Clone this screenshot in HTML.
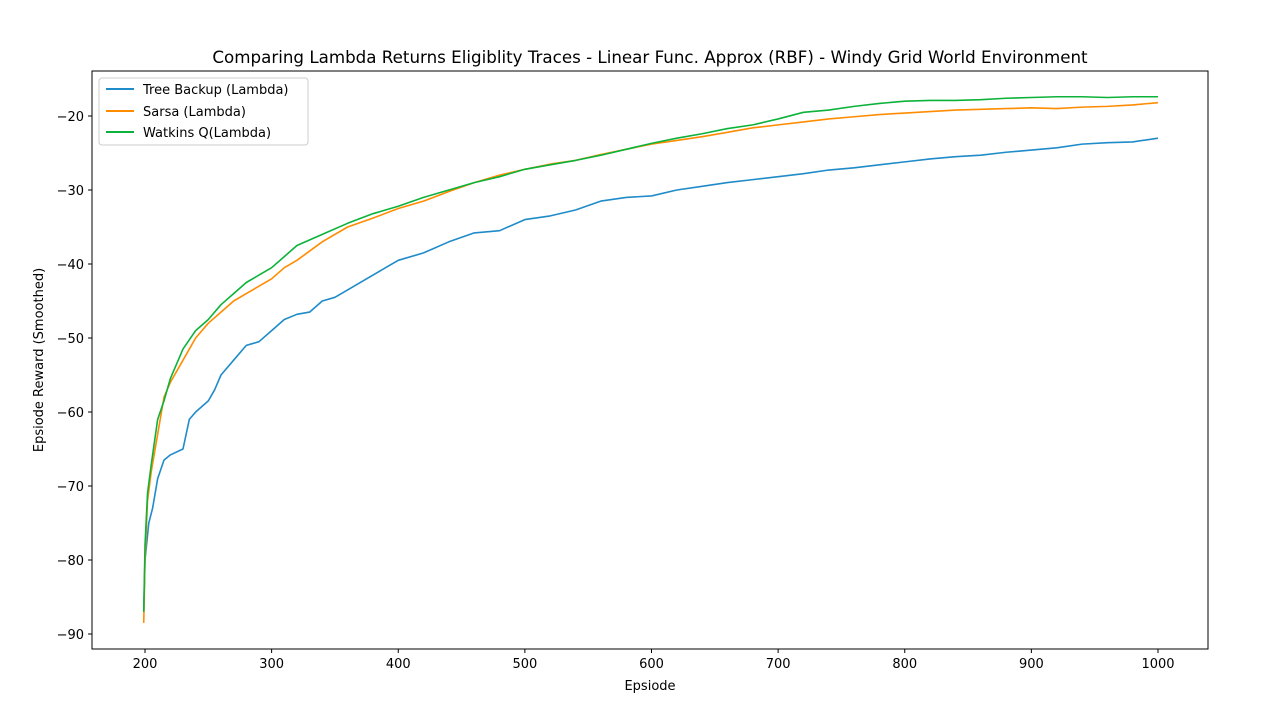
<!DOCTYPE html>
<html><head><meta charset="utf-8"><style>
body{margin:0;background:#fff;font-family:"DejaVu Sans","Liberation Sans",sans-serif;}
svg text{font-family:"DejaVu Sans","Liberation Sans",sans-serif;}
</style></head><body>
<svg id="chart" width="1281" height="711" xmlns="http://www.w3.org/2000/svg">
<rect width="1281" height="711" fill="#fff"/>
<text x="650" y="63" font-size="16.7" text-anchor="middle">Comparing Lambda Returns Eligiblity Traces - Linear Func. Approx (RBF) - Windy Grid World Environment</text>
<g id="plot"></g>
<rect x="92" y="71" width="1116" height="578" fill="none" stroke="#000" stroke-width="1"/>
<text x="650" y="690" font-size="13" text-anchor="middle">Epsiode</text>
<text transform="translate(43,360) rotate(-90)" font-size="13" text-anchor="middle">Epsiode Reward (Smoothed)</text>
<g>
<rect x="99" y="78" width="209" height="67" fill="#fff" stroke="#ccc" rx="3"/>
<line x1="106" y1="89" x2="134" y2="89" stroke="#1f8bc9" stroke-width="2"/>
<text x="143" y="94" font-size="13">Tree Backup (Lambda)</text>
<line x1="106" y1="111" x2="134" y2="111" stroke="#ff8c00" stroke-width="2"/>
<text x="143" y="116" font-size="13">Sarsa (Lambda)</text>
<line x1="106" y1="132" x2="134" y2="132" stroke="#0db23a" stroke-width="2"/>
<text x="143" y="137" font-size="13">Watkins Q(Lambda)</text>
</g>
</svg>
<script>
const xTicks=[200,300,400,500,600,700,800,900,1000];
const yTicks=[-20,-30,-40,-50,-60,-70,-80,-90];
const treeX=[199,200,203,206,210,215,220,230,235,240,250,255,260,270,280,290,300,310,320,330,340,350,360,375,390,400,420,440,460,480,500,520,540,560,580,600,620,640,660,680,700,720,740,760,780,800,820,840,860,880,900,920,940,960,980,1000];
const treeY=[-87,-80,-75,-73,-69,-66.5,-65.8,-65,-61,-60,-58.5,-57,-55,-53,-51,-50.5,-49,-47.5,-46.8,-46.5,-45,-44.5,-43.5,-42,-40.5,-39.5,-38.5,-37,-35.8,-35.5,-34,-33.5,-32.7,-31.5,-31,-30.8,-30,-29.5,-29,-28.6,-28.2,-27.8,-27.3,-27,-26.6,-26.2,-25.8,-25.5,-25.3,-24.9,-24.6,-24.3,-23.8,-23.6,-23.5,-23];
const sarsaX=[199,200,202,205,210,215,220,230,240,250,260,270,280,290,300,310,320,340,360,380,400,420,440,460,480,500,520,540,560,580,600,620,640,660,680,700,720,740,760,780,800,820,840,860,880,900,920,940,960,980,1000];
const sarsaY=[-88.5,-80,-72,-68,-63,-58,-56,-53,-50,-48,-46.5,-45,-44,-43,-42,-40.5,-39.5,-37,-35,-33.8,-32.5,-31.5,-30.2,-29,-28,-27.2,-26.5,-26,-25.2,-24.5,-23.8,-23.3,-22.8,-22.2,-21.6,-21.2,-20.8,-20.4,-20.1,-19.8,-19.6,-19.4,-19.2,-19.1,-19,-18.9,-19,-18.8,-18.7,-18.5,-18.2];
const watX=sarsaX;
const watY=[-87,-78,-71,-67,-61,-58.5,-55.5,-51.5,-49,-47.5,-45.5,-44,-42.5,-41.5,-40.5,-39,-37.5,-36,-34.5,-33.2,-32.2,-31,-30,-29,-28.2,-27.2,-26.6,-26,-25.3,-24.5,-23.7,-23,-22.4,-21.7,-21.2,-20.4,-19.5,-19.2,-18.7,-18.3,-18,-17.9,-17.9,-17.8,-17.6,-17.5,-17.4,-17.4,-17.5,-17.4,-17.4];
const sx=v=>145+(v-200)*(1013/800);
const sy=v=>116+(-20-v)*(518/70);
const NS="http://www.w3.org/2000/svg";
const g=document.getElementById('plot');
function mk(t,a){const e=document.createElementNS(NS,t);for(const k in a)e.setAttribute(k,a[k]);g.appendChild(e);return e;}
xTicks.forEach(v=>{
 const l=mk('line',{x1:sx(v),x2:sx(v),y1:649,y2:653,stroke:'#000'});
 
 
 const t=mk('text',{x:sx(v),y:668,'font-size':13,'text-anchor':'middle'});t.textContent=v;
 
 
});
yTicks.forEach(v=>{
 const l=mk('line',{x1:88,x2:92,y1:sy(v),y2:sy(v),stroke:'#000'});
 
 
 const t=mk('text',{x:84,y:sy(v)+5,'font-size':13,'text-anchor':'end'});t.textContent='\u2212'+Math.abs(v);
 
 
});
function series(xs,ys,c,n){
 const p=mk('polyline',{points:xs.map((x,i)=>sx(x)+','+sy(ys[i])).join(' '),fill:'none',stroke:c,'stroke-width':1.6,'stroke-linejoin':'round'});
 
 
}
series(treeX,treeY,'#1f8bc9','tree-backup-line');
series(sarsaX,sarsaY,'#ff8c00','sarsa-line');
series(watX,watY,'#0db23a','watkins-line');
</script>
</body></html>
